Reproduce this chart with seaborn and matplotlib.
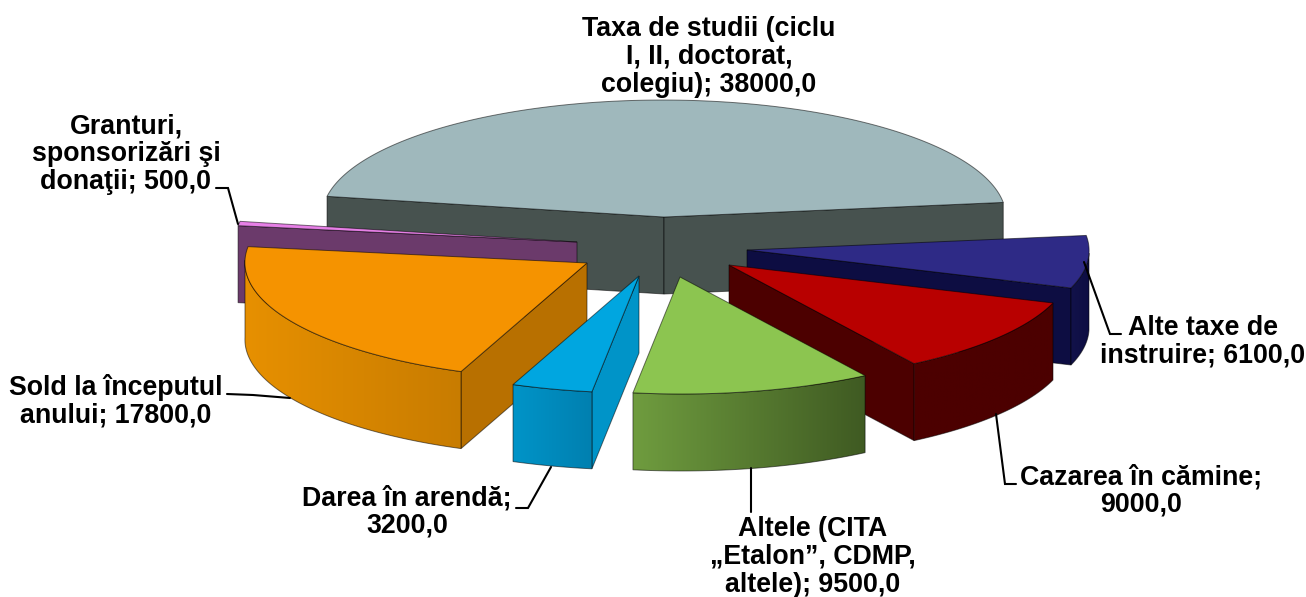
"""Exploded 3D-look pie chart of income sources, drawn on a flat pixel canvas."""

from __future__ import annotations

import matplotlib

matplotlib.use("Agg")

import matplotlib.pyplot as plt
import numpy as np
import seaborn as sns
from matplotlib.patches import Polygon


OUTPUT_PATH = "out.png"

# data, clockwise from the big back slice
CATEGORIES = [
    "Taxa de studii",
    "Alte taxe de instruire",
    "Cazarea în cămine",
    "Altele",
    "Darea în arendă",
    "Sold la începutul anului",
    "Granturi",
]
VALUES = [38000.0, 6100.0, 9000.0, 9500.0, 3200.0, 17800.0, 500.0]

# styling, same order as the data
EXPLODE = [(0, 0), (83, 33), (65, 48), (16, 60), (-25, 59), (-77, 46), (-87, 25)]
TOP_COLORS = ["#9fb8bc", "#2e2a86", "#b80000", "#8cc550", "#00a6e0", "#f59300", "#e680e6"]
WALL_COLORS = ["#47524f", "#0d0d42", "#4c0000", "#3f5a22", "#0094c8", "#b87000", "#6b3a6b"]
RIM_COLORS = [
    ("#47524f", "#47524f"),
    ("#12124a", "#0d0d42"),
    ("#4c0000", "#4c0000"),
    ("#6f9c3f", "#3f5a22"),
    ("#0094c8", "#0080b0"),
    ("#e79000", "#c87c00"),
    ("#6b3a6b", "#6b3a6b"),
]
DRAW_ORDER = [0, 6, 1, 2, 3, 5, 4]

CENTER = (664, 217)
RADIUS_X = 342
RADIUS_Y = 117
SHEAR = -0.065
TILT = 0.009
DEPTH = 77

LABEL_FONT = ["Liberation Sans", "DejaVu Sans"]
LABEL_SIZE = 19.3
LINE_SPACING = 1.08
LABELS = [
    ("Taxa de studii (ciclu\nI, II, doctorat,\ncolegiu); 38000,0", 709, 57),
    ("Granturi,\nsponsorizări şi\ndonaţii; 500,0", 126, 154),
    ("Sold la începutul\nanului; 17800,0", 116, 401),
    ("Darea în arendă;\n3200,0", 407, 512),
    ("Altele (CITA\n„Etalon”, CDMP,\naltele); 9500,0", 813, 557),
    ("Cazarea în cămine;\n9000,0", 1141, 491),
    ("Alte taxe de\ninstruire; 6100,0", 1203, 342),
]
LEADERS = [
    ([216, 228, 238], [188, 188, 224]),
    ([227, 253, 290], [394, 395, 398]),
    ([516, 528, 551], [508, 508, 467]),
    ([751, 751], [468, 512]),
    ([1016, 1005, 996], [484, 484, 414]),
    ([1121, 1110, 1084], [334, 334, 262]),
]


def slice_angles(values: list[float]) -> list[tuple[float, float]]:
    sweeps = np.array(values) / np.sum(values) * 360.0
    start = 90.0 + sweeps[0] / 2.0
    angles = []
    for sweep in sweeps:
        angles.append((start, start - sweep))
        start -= sweep
    return angles


def rim_point(vertex: tuple[float, float], angle: np.ndarray | float) -> np.ndarray:
    rad = np.radians(angle)
    dy = -RADIUS_Y * np.sin(rad)
    dx = RADIUS_X * np.cos(rad) + SHEAR * dy
    return np.column_stack([vertex[0] + dx, vertex[1] + dy + TILT * dx])


def wall_faces_viewer(vertex, end, inside) -> bool:
    # the wall shows when the slice top lies above the cut edge on screen
    if abs(end[0] - vertex[0]) < 1e-6:
        return False
    line_y = vertex[1] + (end[1] - vertex[1]) * (inside[0] - vertex[0]) / (end[0] - vertex[0])
    return inside[1] < line_y


def draw_slice(ax, vertex, angle_a, angle_b, top_color, wall_color, rim_colors, zorder) -> None:
    outline = {"edgecolor": "#00000088", "linewidth": 0.7}
    inside = rim_point(vertex, (angle_a + angle_b) / 2.0)[0]
    inside = (inside + np.array(vertex)) / 2.0
    drop = np.array([0, DEPTH])

    for angle in (angle_a, angle_b):
        end = rim_point(vertex, angle)[0]
        if wall_faces_viewer(vertex, end, inside):
            corners = [vertex, end, end + drop, np.array(vertex) + drop]
            ax.add_patch(Polygon(corners, facecolor=wall_color, zorder=zorder, **outline))

    arc_angles = np.linspace(angle_a, angle_b, 160)
    arc = rim_point(vertex, arc_angles)

    # outer rim: a left-right gradient clipped to the rim outline
    lower = arc_angles[np.sin(np.radians(arc_angles)) < 0]
    if len(lower) > 1:
        rim = rim_point(vertex, lower)
        outer = np.vstack([rim, (rim + drop)[::-1]])
        shape = Polygon(outer, facecolor="none", zorder=zorder + 0.2, **outline)
        ax.add_patch(shape)
        cmap = sns.blend_palette(list(rim_colors), as_cmap=True)
        image = ax.imshow(
            np.linspace(0, 1, 256).reshape(1, -1),
            cmap=cmap,
            aspect="auto",
            extent=(rim[:, 0].min(), rim[:, 0].max(), outer[:, 1].max(), outer[:, 1].min()),
            zorder=zorder + 0.1,
        )
        image.set_clip_path(shape)

    top = np.vstack([[vertex], arc])
    ax.add_patch(Polygon(top, facecolor=top_color, zorder=zorder + 0.3, **outline))


def main() -> None:
    sns.set_theme(style="white")
    plt.rcParams["font.family"] = LABEL_FONT

    fig = plt.figure(figsize=(13.06, 5.97), dpi=100)
    ax = fig.add_axes([0, 0, 1, 1])

    angles = slice_angles(VALUES)
    for order, index in enumerate(DRAW_ORDER):
        vertex = (CENTER[0] + EXPLODE[index][0], CENTER[1] + EXPLODE[index][1])
        angle_a, angle_b = angles[index]
        draw_slice(
            ax,
            vertex,
            angle_a,
            angle_b,
            TOP_COLORS[index],
            WALL_COLORS[index],
            RIM_COLORS[index],
            zorder=1 + order,
        )

    for xs, ys in LEADERS:
        ax.plot(xs, ys, color="black", linewidth=1.5, solid_joinstyle="miter", zorder=15)

    for text, x, y in LABELS:
        ax.text(
            x,
            y,
            text,
            ha="center",
            va="center",
            fontsize=LABEL_SIZE,
            fontweight="bold",
            color="black",
            linespacing=LINE_SPACING,
            zorder=20,
        )

    ax.set_xlim(0, 1306)
    ax.set_ylim(597, 0)
    ax.axis("off")
    fig.savefig(OUTPUT_PATH, dpi=100)
    plt.close(fig)


if __name__ == "__main__":
    main()
